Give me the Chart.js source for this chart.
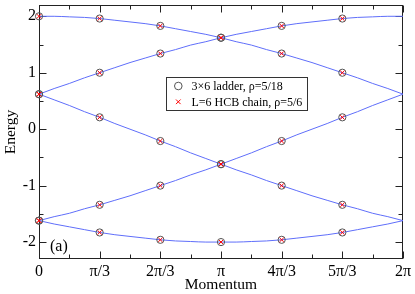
<!DOCTYPE html>
<html><head><meta charset="utf-8">
<script src="https://cdn.jsdelivr.net/npm/chart.js@4/dist/chart.umd.min.js"></script>
<style>html,body{margin:0;padding:0;background:#fff}#wrap{width:415px;height:294px;position:relative}</style>
</head><body><div id="wrap"><canvas id="c"></canvas></div>
<script>
// Momentum axis in units of π
const xTickLabels = ['0', 'π/3', '2π/3', 'π', '4π/3', '5π/3', '2π'];
const yTickValues = [-2, -1, 0, 1, 2];
// curve sample momenta, in units of π/12
const curveK = [0,1,2,3,4,5,6,7,8,9,10,11,12,13,14,15,16,17,18,19,20,21,22,23,24];
const band1 = [2.00,2.00,1.99,1.98,1.96,1.93,1.90,1.87,1.83,1.78,1.73,1.68,1.62,1.55,1.49,1.41,1.34,1.26,1.18,1.09,1.00,0.91,0.81,0.72,0.62];
const band2 = [0.62,0.52,0.42,0.31,0.21,0.10,0.00,-0.10,-0.21,-0.31,-0.42,-0.52,-0.62,-0.72,-0.81,-0.91,-1.00,-1.09,-1.18,-1.26,-1.34,-1.41,-1.49,-1.55,-1.62];
const band3 = [-1.62,-1.68,-1.73,-1.78,-1.83,-1.87,-1.90,-1.93,-1.96,-1.98,-1.99,-2.00,-2.00,-2.00,-1.99,-1.98,-1.96,-1.93,-1.90,-1.87,-1.83,-1.78,-1.73,-1.68,-1.62];
const band4 = [-1.62,-1.55,-1.49,-1.41,-1.34,-1.26,-1.18,-1.09,-1.00,-0.91,-0.81,-0.72,-0.62,-0.52,-0.42,-0.31,-0.21,-0.10,0.00,0.10,0.21,0.31,0.42,0.52,0.62];
const band5 = [0.62,0.72,0.81,0.91,1.00,1.09,1.18,1.26,1.34,1.41,1.49,1.55,1.62,1.68,1.73,1.78,1.83,1.87,1.90,1.93,1.96,1.98,1.99,2.00,2.00];
// point momenta, in units of π/3
const pointK = [0,1,2,3,4,5];
const ladderEnergies = [
  [2.00, 0.62, 0.62, -1.62, -1.62],
  [1.96, 1.00, 0.21, -1.34, -1.83],
  [1.83, 1.34, -0.21, -1.00, -1.96],
  [1.62, 1.62, -0.62, -0.62, -2.00],
  [1.83, 1.34, -0.21, -1.00, -1.96],
  [1.96, 1.00, 0.21, -1.34, -1.83]
];
const chainEnergies = [
  [2.00, 0.62, 0.62, -1.62, -1.62],
  [1.96, 1.00, 0.21, -1.34, -1.83],
  [1.83, 1.34, -0.21, -1.00, -1.96],
  [1.62, 1.62, -0.62, -0.62, -2.00],
  [1.83, 1.34, -0.21, -1.00, -1.96],
  [1.96, 1.00, 0.21, -1.34, -1.83]
];
const legendLabels = ['3×6 ladder, ρ=5/18', 'L=6 HCB chain, ρ=5/6'];

const SERIF = '"Liberation Serif", "Times New Roman", serif';
const lineColor = 'rgb(95,110,250)';
const bands = [band1, band2, band3, band4, band5];
const curveSets = bands.map(b => ({
  type: 'line',
  data: curveK.map((k, i) => ({x: k / 12, y: b[i]})),
  borderColor: lineColor, borderWidth: 1, pointRadius: 0,
  cubicInterpolationMode: 'monotone', fill: false, order: 3
}));
function pts(arr) {
  const out = [];
  pointK.forEach((k, i) => arr[i].forEach(e => out.push({x: k / 3, y: e})));
  return out;
}
const circleSet = {
  type: 'scatter', data: pts(ladderEnergies), showLine: false, clip: false,
  pointStyle: 'circle', pointRadius: 3.6, borderColor: '#555', borderWidth: 1,
  backgroundColor: 'rgba(0,0,0,0)', order: 2
};
const crossSet = {
  type: 'scatter', data: pts(chainEnergies), showLine: false, clip: false,
  pointStyle: 'crossRot', pointRadius: 3, borderColor: 'rgb(255,0,0)', borderWidth: 1,
  backgroundColor: 'rgb(255,0,0)', order: 1
};

const framePlugin = {
  id: 'frame',
  beforeDatasetsDraw(chart) {
    const {ctx, chartArea: a, scales: {x, y}} = chart;
    ctx.save();
    ctx.strokeStyle = '#222'; ctx.lineWidth = 1;
    const L = Math.round(a.left) + 0.5, R = Math.round(a.right) - 0.5;
    const T = Math.round(a.top) + 0.5, B = Math.round(a.bottom) - 0.5;
    ctx.beginPath();
    const xs = [];
    for (let i = 0; i <= 12; i++) xs.push([i / 6, i % 2 === 0 ? 7 : 4]);
    xs.forEach(([v, len]) => {
      const p = Math.round(x.getPixelForValue(v)) + 0.5;
      ctx.moveTo(p, B); ctx.lineTo(p, B - len);
      ctx.moveTo(p, T); ctx.lineTo(p, T + len);
    });
    const ys = [[-2,7],[-1.5,4],[-1,7],[-0.5,4],[0,7],[0.5,4],[1,7],[1.5,4],[2,7]];
    ys.forEach(([v, len]) => {
      const p = Math.round(y.getPixelForValue(v)) + 0.5;
      ctx.moveTo(L, p); ctx.lineTo(L + len, p);
      ctx.moveTo(R, p); ctx.lineTo(R - len, p);
    });
    ctx.stroke();
    ctx.strokeRect(L, T, R - L, B - T);
    ctx.restore();
  },
  afterDatasetsDraw(chart) {
    const {ctx} = chart;
    ctx.save();
    ctx.lineWidth = 1;
    // legend box
    const bx = 166.5, by = 77.5, bw = 141, bh = 33;
    ctx.fillStyle = '#fff';
    ctx.fillRect(bx, by, bw, bh);
    ctx.strokeStyle = '#333';
    ctx.strokeRect(bx, by, bw, bh);
    // symbols
    ctx.strokeStyle = '#555';
    ctx.beginPath(); ctx.arc(178.3, 86, 3.8, 0, Math.PI * 2); ctx.stroke();
    ctx.strokeStyle = 'rgb(255,0,0)';
    ctx.beginPath();
    ctx.moveTo(176, 99.5); ctx.lineTo(180.6, 104.1);
    ctx.moveTo(180.6, 99.5); ctx.lineTo(176, 104.1);
    ctx.stroke();
    ctx.fillStyle = '#000';
    ctx.font = '12px ' + SERIF;
    ctx.textBaseline = 'alphabetic'; ctx.textAlign = 'left';
    ctx.fillText(legendLabels[0], 191.5, 90);
    ctx.fillText(legendLabels[1], 191.5, 106);
    // panel label
    ctx.font = '16px ' + SERIF;
    ctx.fillText('(a)', 50, 251);
    ctx.restore();
  }
};

new Chart(document.getElementById('c'), {
  data: {datasets: [...curveSets, circleSet, crossSet]},
  options: {
    responsive: true, maintainAspectRatio: false, animation: false,
    layout: {padding: {top: 3, right: 12, left: 0, bottom: 0}},
    plugins: {legend: {display: false}, tooltip: {enabled: false}},
    scales: {
      x: {
        type: 'linear', min: 0, max: 2,
        grid: {display: false, drawTicks: false}, border: {display: false},
        afterBuildTicks: s => { s.ticks = xTickLabels.map((_, i) => ({value: i / 3})); },
        afterFit: s => { s.height = 35; s.paddingLeft = 0; s.paddingRight = 0; },
        ticks: {
          autoSkip: false, maxRotation: 0, padding: 3, color: '#000',
          font: {family: SERIF, size: 16},
          callback: (v, i) => xTickLabels[i]
        },
        title: {display: true, text: 'Momentum', color: '#000',
          font: {family: SERIF, size: 15.5}, padding: {top: 0, bottom: 0}}
      },
      y: {
        type: 'linear', min: -2.3, max: 2.2,
        grid: {display: false, drawTicks: false}, border: {display: false},
        afterBuildTicks: s => { s.ticks = yTickValues.map(v => ({value: v})); },
        afterFit: s => { s.width = 39; s.paddingTop = 0; s.paddingBottom = 0; },
        ticks: {
          autoSkip: false, padding: 3, color: '#000',
          font: {family: SERIF, size: 16},
          callback: v => String(v)
        },
        title: {display: true, text: 'Energy', color: '#000',
          font: {family: SERIF, size: 15.5}, padding: {top: 2, bottom: 0}}
      }
    }
  },
  plugins: [framePlugin]
});
</script>
</body></html>
